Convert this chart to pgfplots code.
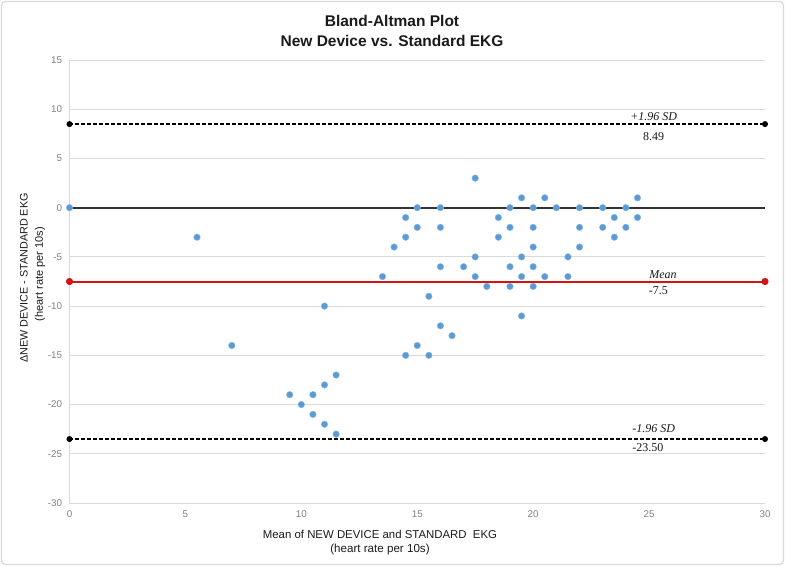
\documentclass[border=0pt]{standalone}
\usepackage{fontspec}
\setmainfont{Liberation Sans}
\newfontfamily\georgia{Liberation Serif}
\usepackage{pgfplots}
\pgfplotsset{compat=1.18}
\definecolor{ptblue}{HTML}{5B9BD5}
\definecolor{gridc}{HTML}{D9D9D9}
\definecolor{tickc}{HTML}{7F7F7F}
\definecolor{meanred}{HTML}{D41414}
\definecolor{labc}{HTML}{1A1A1A}
\definecolor{zeroc}{HTML}{333333}
\begin{document}
\begin{tikzpicture}[x=1pt,y=1pt]
\path[use as bounding box] (0,0) rectangle (785,566);
\draw[gray!30, line width=1.2pt, rounded corners=4pt] (1.5,1.5) rectangle (783.5,564.5);
\begin{axis}[
  at={(69.5pt,63pt)}, anchor=south west,
  scale only axis, width=695.5pt, height=443pt,
  xmin=0, xmax=30, ymin=-30, ymax=15,
  xtick={0,5,...,30}, ytick={-30,-25,...,15},
  axis x line*=bottom, axis y line*=left,
  axis line style={gridc, line width=1pt, -},
  major tick length=0pt,
  ymajorgrids, grid style={gridc, line width=0.8pt},
  tick label style={font=\fontsize{9.8}{11}\selectfont, text=tickc},
  /pgf/number format/assume math mode=true,
  xticklabel style={yshift=-4pt},
  yticklabel style={xshift=-4pt},
  clip=false,
]
\addplot[zeroc, line width=1.8pt] coordinates {(0,0) (30,0)};
\addplot[meanred, line width=2pt, mark=*, mark size=2.5pt] coordinates {(0,-7.5) (30,-7.5)};
\addplot[black, line width=1.5pt, dash pattern=on 4pt off 2pt, mark=*, mark size=2.2pt, mark options={solid}] coordinates {(0,8.49) (30,8.49)};
\addplot[black, line width=1.5pt, dash pattern=on 4pt off 2pt, mark=*, mark size=2.2pt, mark options={solid}] coordinates {(0,-23.5) (30,-23.5)};
\addplot[only marks, mark=*, mark size=3.3pt, mark options={fill=ptblue, draw=ptblue!70!white, line width=0.4pt}] coordinates {
(0,0) (5.5,-3) (7,-14) (9.5,-19) (10,-20) (10.5,-19) (10.5,-21)
(11,-10) (11,-18) (11,-22) (11.5,-17) (11.5,-23) (13.5,-7) (14,-4)
(14.5,-1) (14.5,-3) (14.5,-15) (15,0) (15,-2) (15,-14) (15.5,-9)
(15.5,-15) (16,0) (16,-2) (16,-6) (16,-12) (16.5,-13) (17,-6)
(17.5,3) (17.5,-5) (17.5,-7) (18,-8) (18.5,-1) (18.5,-3) (19,0)
(19,-2) (19,-6) (19,-8) (19.5,1) (19.5,-5) (19.5,-7) (19.5,-11)
(20,0) (20,-2) (20,-4) (20,-6) (20,-8) (20.5,1) (20.5,-7) (21,0)
(21.5,-5) (21.5,-7) (22,0) (22,-2) (22,-4) (23,0) (23,-2)
(23.5,-1) (23.5,-3) (24,0) (24,-2) (24.5,1) (24.5,-1)
};
\node[font=\georgia\itshape\fontsize{12}{14}\selectfont, text=labc] at (axis cs:25.2,9.25) {+1.96 SD};
\node[font=\georgia\fontsize{12}{14}\selectfont, text=labc] at (axis cs:25.2,7.2) {8.49};
\node[font=\georgia\itshape\fontsize{12}{14}\selectfont, text=labc] at (axis cs:25.6,-6.85) {Mean};
\node[font=\georgia\fontsize{12}{14}\selectfont, text=labc] at (axis cs:25.4,-8.45) {-7.5};
\node[font=\georgia\itshape\fontsize{12}{14}\selectfont, text=labc] at (axis cs:25.2,-22.4) {-1.96 SD};
\node[font=\georgia\fontsize{12}{14}\selectfont, text=labc] at (axis cs:24.95,-24.35) {-23.50};
\end{axis}
\node[font=\bfseries\fontsize{15.5}{18}\selectfont, text=labc] at (392,545) {Bland-Altman Plot};
\node[font=\bfseries\fontsize{15.5}{18}\selectfont, text=labc] at (392,525) {New Device vs. Standard EKG};
\node[font=\fontsize{11.4}{13}\selectfont, text=labc] at (380,32) {Mean of NEW DEVICE and STANDARD\ \ EKG};
\node[font=\fontsize{11.6}{13}\selectfont, text=labc] at (380,17) {(heart rate per 10s)};
\node[font=\fontsize{10.8}{13}\selectfont, text=labc, rotate=90] at (24,288) {ΔNEW DEVICE - STANDARD EKG};
\node[font=\fontsize{11}{13}\selectfont, text=labc, rotate=90] at (40,292) {(heart rate per 10s)};
\end{tikzpicture}
\end{document}
